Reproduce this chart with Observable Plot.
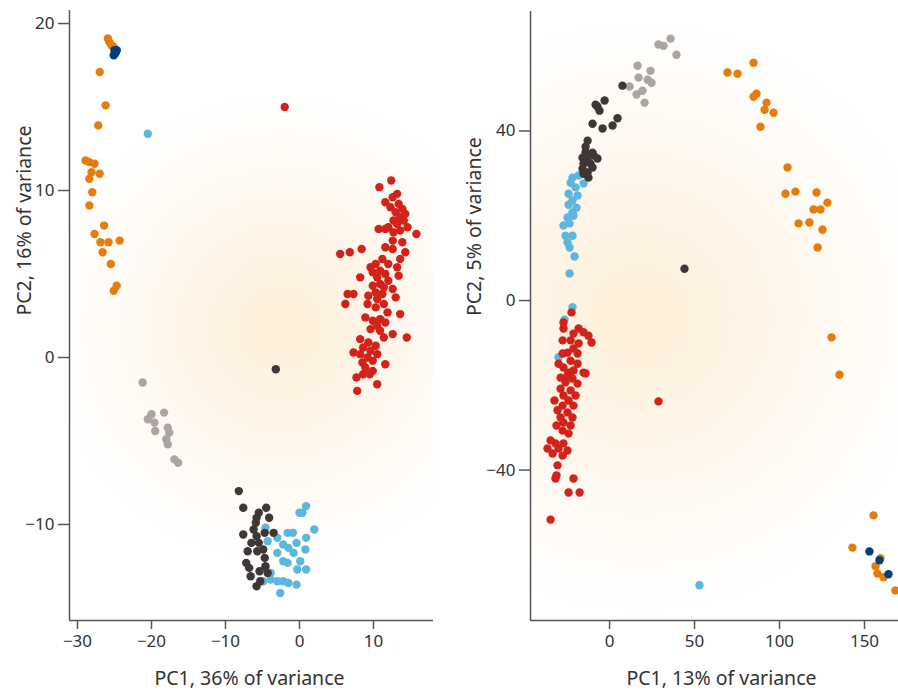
<!DOCTYPE html>
<html><head><meta charset="utf-8">
<script src="https://cdn.jsdelivr.net/npm/d3@7"></script>
<script src="https://cdn.jsdelivr.net/npm/@observablehq/plot@0.6"></script>
<style>
html,body{margin:0;padding:0;background:#fff;}
#wrap{display:flex;width:898px;height:691px;overflow:hidden;}
</style></head><body><div id="wrap"></div>
<script>
// ---------- Left panel data (PC1 36%, PC2 16%) ----------
const leftOrange = [[-25.9,19.1],[-25.7,18.9],[-25.4,18.7],[-25.1,18.6],[-27.0,17.1],[-26.2,15.1],[-27.2,13.9],[-28.9,11.8],[-28.4,11.7],[-27.7,11.6],[-28.1,11.1],[-27.0,11.0],[-28.4,10.7],[-28.0,9.9],[-28.4,9.1],[-26.4,7.9],[-27.7,7.4],[-26.9,6.9],[-25.8,6.9],[-24.3,7.0],[-26.6,6.3],[-25.5,5.6],[-24.7,4.3],[-25.1,4.0]];
const leftDarkBlue = [[-25.0,18.4],[-24.8,18.3],[-25.1,18.1],[-24.9,18.2],[-24.7,18.4]];
const leftLightBlue = [[-20.5,13.4],[0.9,-8.9],[0.0,-9.3],[0.4,-9.3],[2.0,-10.3],[-4.6,-10.2],[-3.0,-10.8],[-4.3,-11.0],[-1.6,-10.5],[-0.9,-10.5],[0.9,-10.8],[-0.4,-11.1],[-2.2,-11.2],[-1.5,-11.4],[0.8,-11.5],[-3.0,-11.7],[-0.8,-11.7],[-2.2,-12.2],[-1.6,-12.3],[0.1,-12.2],[-0.3,-12.7],[0.9,-12.7],[-3.9,-12.9],[-4.6,-12.6],[-3.0,-13.4],[-2.2,-13.4],[-1.5,-13.5],[-0.4,-13.6],[-2.6,-14.1],[-3.9,-13.3],[-4.9,-13.4]];
const leftDarkGray = [[-3.2,-0.7],[-8.2,-8.0],[-7.6,-9.0],[-4.5,-9.0],[-4.1,-9.6],[-5.5,-9.3],[-5.8,-9.6],[-5.9,-9.9],[-6.2,-10.3],[-4.7,-10.5],[-3.5,-10.5],[-7.6,-10.6],[-5.8,-10.7],[-6.5,-11.1],[-5.5,-11.1],[-4.9,-11.5],[-7.0,-11.6],[-5.7,-11.6],[-4.7,-12.0],[-7.2,-12.3],[-6.8,-12.6],[-4.6,-12.5],[-6.6,-13.1],[-5.4,-12.8],[-4.3,-12.9],[-5.3,-13.4],[-5.8,-13.7]];
const leftLightGray = [[-21.2,-1.5],[-20.0,-3.4],[-20.5,-3.7],[-19.6,-3.9],[-18.3,-3.3],[-17.8,-4.2],[-17.6,-4.5],[-19.5,-4.4],[-18.0,-4.9],[-17.8,-5.2],[-16.9,-6.1],[-16.4,-6.3]];
const leftRed = [[-2.0,15.0],[12.4,10.6],[10.8,10.2],[13.2,9.8],[12.6,9.6],[11.6,9.3],[13.4,9.2],[12.3,9.0],[13.9,8.9],[13.0,8.7],[14.3,8.6],[13.6,8.4],[12.7,8.2],[14.1,8.2],[13.2,8.0],[12.0,7.8],[14.6,7.8],[10.7,7.7],[13.6,7.6],[15.8,7.4],[12.7,7.5],[11.6,7.7],[12.6,7.0],[13.9,6.9],[11.6,6.6],[12.6,6.5],[14.3,6.3],[5.5,6.2],[6.8,6.3],[8.4,6.5],[13.6,5.9],[11.2,5.9],[10.3,5.6],[12.0,5.6],[9.6,5.4],[13.2,5.4],[10.9,5.2],[9.9,5.1],[11.6,5.0],[10.5,4.8],[13.4,4.9],[8.2,4.8],[12.0,4.6],[10.9,4.4],[9.9,4.3],[11.4,4.2],[12.6,4.1],[10.3,3.9],[11.2,3.8],[7.3,3.8],[6.5,3.8],[9.3,3.7],[13.0,3.6],[10.5,3.5],[6.2,3.2],[11.4,3.2],[9.2,3.2],[10.3,3.0],[13.6,2.6],[11.9,2.7],[8.9,2.4],[10.9,2.3],[9.9,2.2],[11.6,2.1],[10.5,1.9],[9.6,1.7],[10.9,1.6],[12.6,1.4],[14.5,1.2],[11.4,1.2],[8.2,1.1],[9.3,0.9],[10.3,0.7],[8.6,0.6],[9.6,0.4],[7.3,0.3],[8.2,0.2],[10.5,0.2],[9.2,0.0],[9.9,-0.2],[8.5,-0.3],[11.6,-0.4],[8.9,-0.6],[9.9,-0.8],[8.6,-1.0],[9.5,-1.0],[7.7,-1.2],[10.5,-1.6],[7.8,-2.0]];

// ---------- Right panel data (PC1 13%, PC2 5%) ----------
const rightOrange = [[69.4,53.8],[75.3,53.5],[84.7,56.1],[86.5,48.8],[84.7,48.1],[92.4,46.7],[91.2,45.0],[96.5,44.3],[88.8,41.0],[104.7,31.4],[103.5,25.2],[109.4,25.7],[121.8,25.5],[128.2,23.1],[120.0,21.5],[124.1,21.5],[111.2,18.2],[117.6,18.4],[125.3,16.7],[122.4,12.5],[130.6,-8.7],[135.3,-17.5],[155.3,-50.7],[142.9,-58.3],[159.4,-60.8],[156.5,-62.7],[157.6,-64.4],[161.2,-65.3],[168.2,-68.4]];
const rightDarkBlue = [[152.9,-59.2],[158.8,-61.3],[164.1,-64.6]];
const rightLightBlue = [[52.9,-67.2],[-21.8,29.0],[-18.2,29.5],[-15.3,27.6],[-22.9,27.8],[-20.0,26.7],[-24.1,25.2],[-18.8,24.8],[-21.8,23.6],[-24.1,22.6],[-19.4,21.9],[-21.8,20.8],[-24.7,19.6],[-21.2,20.0],[-23.5,18.2],[-27.1,17.7],[-25.9,15.3],[-21.8,15.3],[-24.7,13.7],[-23.5,12.5],[-20.6,10.4],[-23.5,6.4],[-21.8,-1.6],[-26.5,-4.5],[-30.0,-13.4]];
const rightDarkGray = [[44.1,7.5],[7.6,50.7],[-2.9,47.2],[-7.1,45.8],[-5.9,44.8],[-8.2,46.2],[-10.0,41.7],[-4.1,40.6],[1.8,41.3],[4.7,43.0],[-12.9,37.7],[-14.1,36.3],[-10.0,34.9],[-15.9,33.7],[-12.9,33.5],[-7.1,33.5],[-15.3,32.3],[-11.2,32.3],[-15.9,31.1],[-10.0,31.4],[-12.9,30.2],[-12.4,29.0],[-15.3,29.9],[-9.4,34.2],[-14.1,35.0]];
const rightLightGray = [[35.9,61.8],[28.8,60.4],[31.8,60.1],[39.4,58.0],[16.5,55.4],[24.1,54.2],[17.1,52.6],[22.4,52.1],[24.7,51.4],[19.4,49.5],[15.9,48.6],[20.6,46.7],[11.8,50.5]];
const rightRed = [[28.8,-23.8],[-22.4,-2.8],[-27.1,-5.2],[-27.1,-6.6],[-18.2,-6.6],[-21.2,-7.8],[-15.3,-7.5],[-12.4,-8.3],[-10.6,-9.9],[-27.6,-9.4],[-22.9,-9.4],[-18.2,-10.1],[-21.2,-11.3],[-24.7,-12.3],[-27.6,-12.5],[-18.8,-12.5],[-22.9,-14.2],[-30.0,-14.9],[-27.1,-15.8],[-18.8,-14.9],[-24.1,-17.0],[-15.3,-17.0],[-14.1,-17.2],[-24.7,-17.7],[-21.2,-16.5],[-28.8,-18.2],[-21.8,-18.4],[-25.9,-19.3],[-18.8,-19.6],[-28.8,-20.8],[-22.9,-21.2],[-27.1,-22.4],[-20.0,-22.4],[-32.4,-23.6],[-24.1,-23.6],[-27.6,-24.8],[-21.2,-24.8],[-30.6,-25.9],[-24.7,-26.4],[-28.8,-27.6],[-21.8,-27.6],[-27.1,-28.8],[-31.2,-29.5],[-22.9,-29.5],[-27.6,-30.7],[-24.1,-31.4],[-34.7,-33.0],[-31.8,-33.7],[-27.1,-33.7],[-36.5,-34.9],[-30.0,-34.9],[-24.7,-35.4],[-33.5,-36.1],[-27.6,-36.6],[-30.6,-38.9],[-31.2,-41.3],[-31.8,-42.0],[-21.2,-42.0],[-24.1,-45.3],[-17.6,-45.3],[-34.7,-51.7]];

// ---------- Groups, colours, axes ----------
const groupNames = ["grp-pale-grey","grp-sky","grp-charcoal","grp-red","grp-orange","grp-navy"];
const groupColors = ["#aba4a3","#5db6de","#3e3735","#d2221a","#e57c0c","#003d7c"];
const leftTicksX = [-30,-20,-10,0,10];
const leftTicksY = [-10,0,10,20];
const rightTicksX = [0,50,100,150];
const rightTicksY = [-40,0,40];
const leftLabels = {x: "PC1, 36% of variance", y: "PC2, 16% of variance"};
const rightLabels = {x: "PC1, 13% of variance", y: "PC2, 5% of variance"};

function rows(sets) {
  const out = [];
  for (const [g, arr] of sets) for (const [x, y] of arr) out.push({x, y, g});
  return out;
}
const leftData = rows([[groupNames[0],leftLightGray],[groupNames[1],leftLightBlue],[groupNames[2],leftDarkGray],[groupNames[3],leftRed],[groupNames[4],leftOrange],[groupNames[5],leftDarkBlue]]);
const rightData = rows([[groupNames[0],rightLightGray],[groupNames[1],rightLightBlue],[groupNames[2],rightDarkGray],[groupNames[3],rightRed],[groupNames[4],rightOrange],[groupNames[5],rightDarkBlue]]);

function glow(id, fx, fy, fr) {
  return (index, scales, values, dims) => {
    const {width, height, marginLeft, marginRight, marginTop, marginBottom} = dims;
    const w = width - marginLeft - marginRight, h = height - marginTop - marginBottom;
    const g = d3.create("svg:g");
    const grad = g.append("defs").append("radialGradient").attr("id", id)
      .attr("gradientUnits", "userSpaceOnUse")
      .attr("cx", marginLeft + fx * w).attr("cy", marginTop + fy * h).attr("r", fr * w);
    [[0,"#fdefd8"],[0.3,"#fef3e4"],[0.6,"#fef9f1"],[0.85,"#fffdfa"],[1,"#ffffff"]]
      .forEach(([o, c]) => grad.append("stop").attr("offset", o).attr("stop-color", c));
    g.append("rect").attr("x", marginLeft).attr("y", marginTop).attr("width", w).attr("height", h)
      .attr("fill", `url(#${id})`);
    return g.node();
  };
}

function panel({data, width, margins, xDomain, yDomain, xTicks, yTicks, labels, glowArgs, xLabelDx}) {
  return Plot.plot({
    width, height: 691,
    marginLeft: margins[0], marginRight: margins[1], marginTop: margins[2], marginBottom: margins[3],
    style: {fontFamily: "'Noto Sans', sans-serif", fontSize: "17px", color: "#333", background: "transparent", overflow: "visible"},
    x: {domain: xDomain},
    y: {domain: yDomain},
    color: {type: "ordinal", domain: groupNames, range: groupColors},
    marks: [
      glow(...glowArgs),
      Plot.axisX({ticks: xTicks, tickSize: 9, tickPadding: 5, label: null, stroke: "#555", strokeWidth: 1.5, fill: "#333", fontSize: 17}),
      Plot.axisY({ticks: yTicks, tickSize: 11, tickPadding: 4, label: null, stroke: "#555", strokeWidth: 1.5, fill: "#333", fontSize: 17}),
      Plot.ruleX([xDomain[0]], {stroke: "#555", strokeWidth: 1.5}),
      Plot.ruleY([yDomain[0]], {stroke: "#555", strokeWidth: 1.5}),
      Plot.dot(data, {x: "x", y: "y", fill: "g", r: 4.2}),
      Plot.text([labels.x], {frameAnchor: "bottom", dy: 58, dx: xLabelDx, lineAnchor: "middle", fontSize: 19.5, fill: "#333"}),
      Plot.text([labels.y], {frameAnchor: "left", rotate: -90, dx: -margins[0] + 24, lineAnchor: "middle", fontSize: 19.5, fill: "#333"})
    ]
  });
}

const wrap = document.getElementById("wrap");
wrap.append(panel({
  data: leftData, width: 450, margins: [69, 17, 10, 71],
  xDomain: [-31.08, 18.11], yDomain: [-15.75, 20.78],
  xTicks: leftTicksX, yTicks: leftTicksY, labels: leftLabels,
  glowArgs: ["glowL", 0.58, 0.52, 0.64], xLabelDx: -2
}));
wrap.append(panel({
  data: rightData, width: 448, margins: [80, 0, 11, 71],
  xDomain: [-46.5, 170], yDomain: [-75.5, 68.2],
  xTicks: rightTicksX, yTicks: rightTicksY, labels: rightLabels,
  glowArgs: ["glowR", 0.3, 0.5, 0.8], xLabelDx: 7
}));
</script></body></html>
